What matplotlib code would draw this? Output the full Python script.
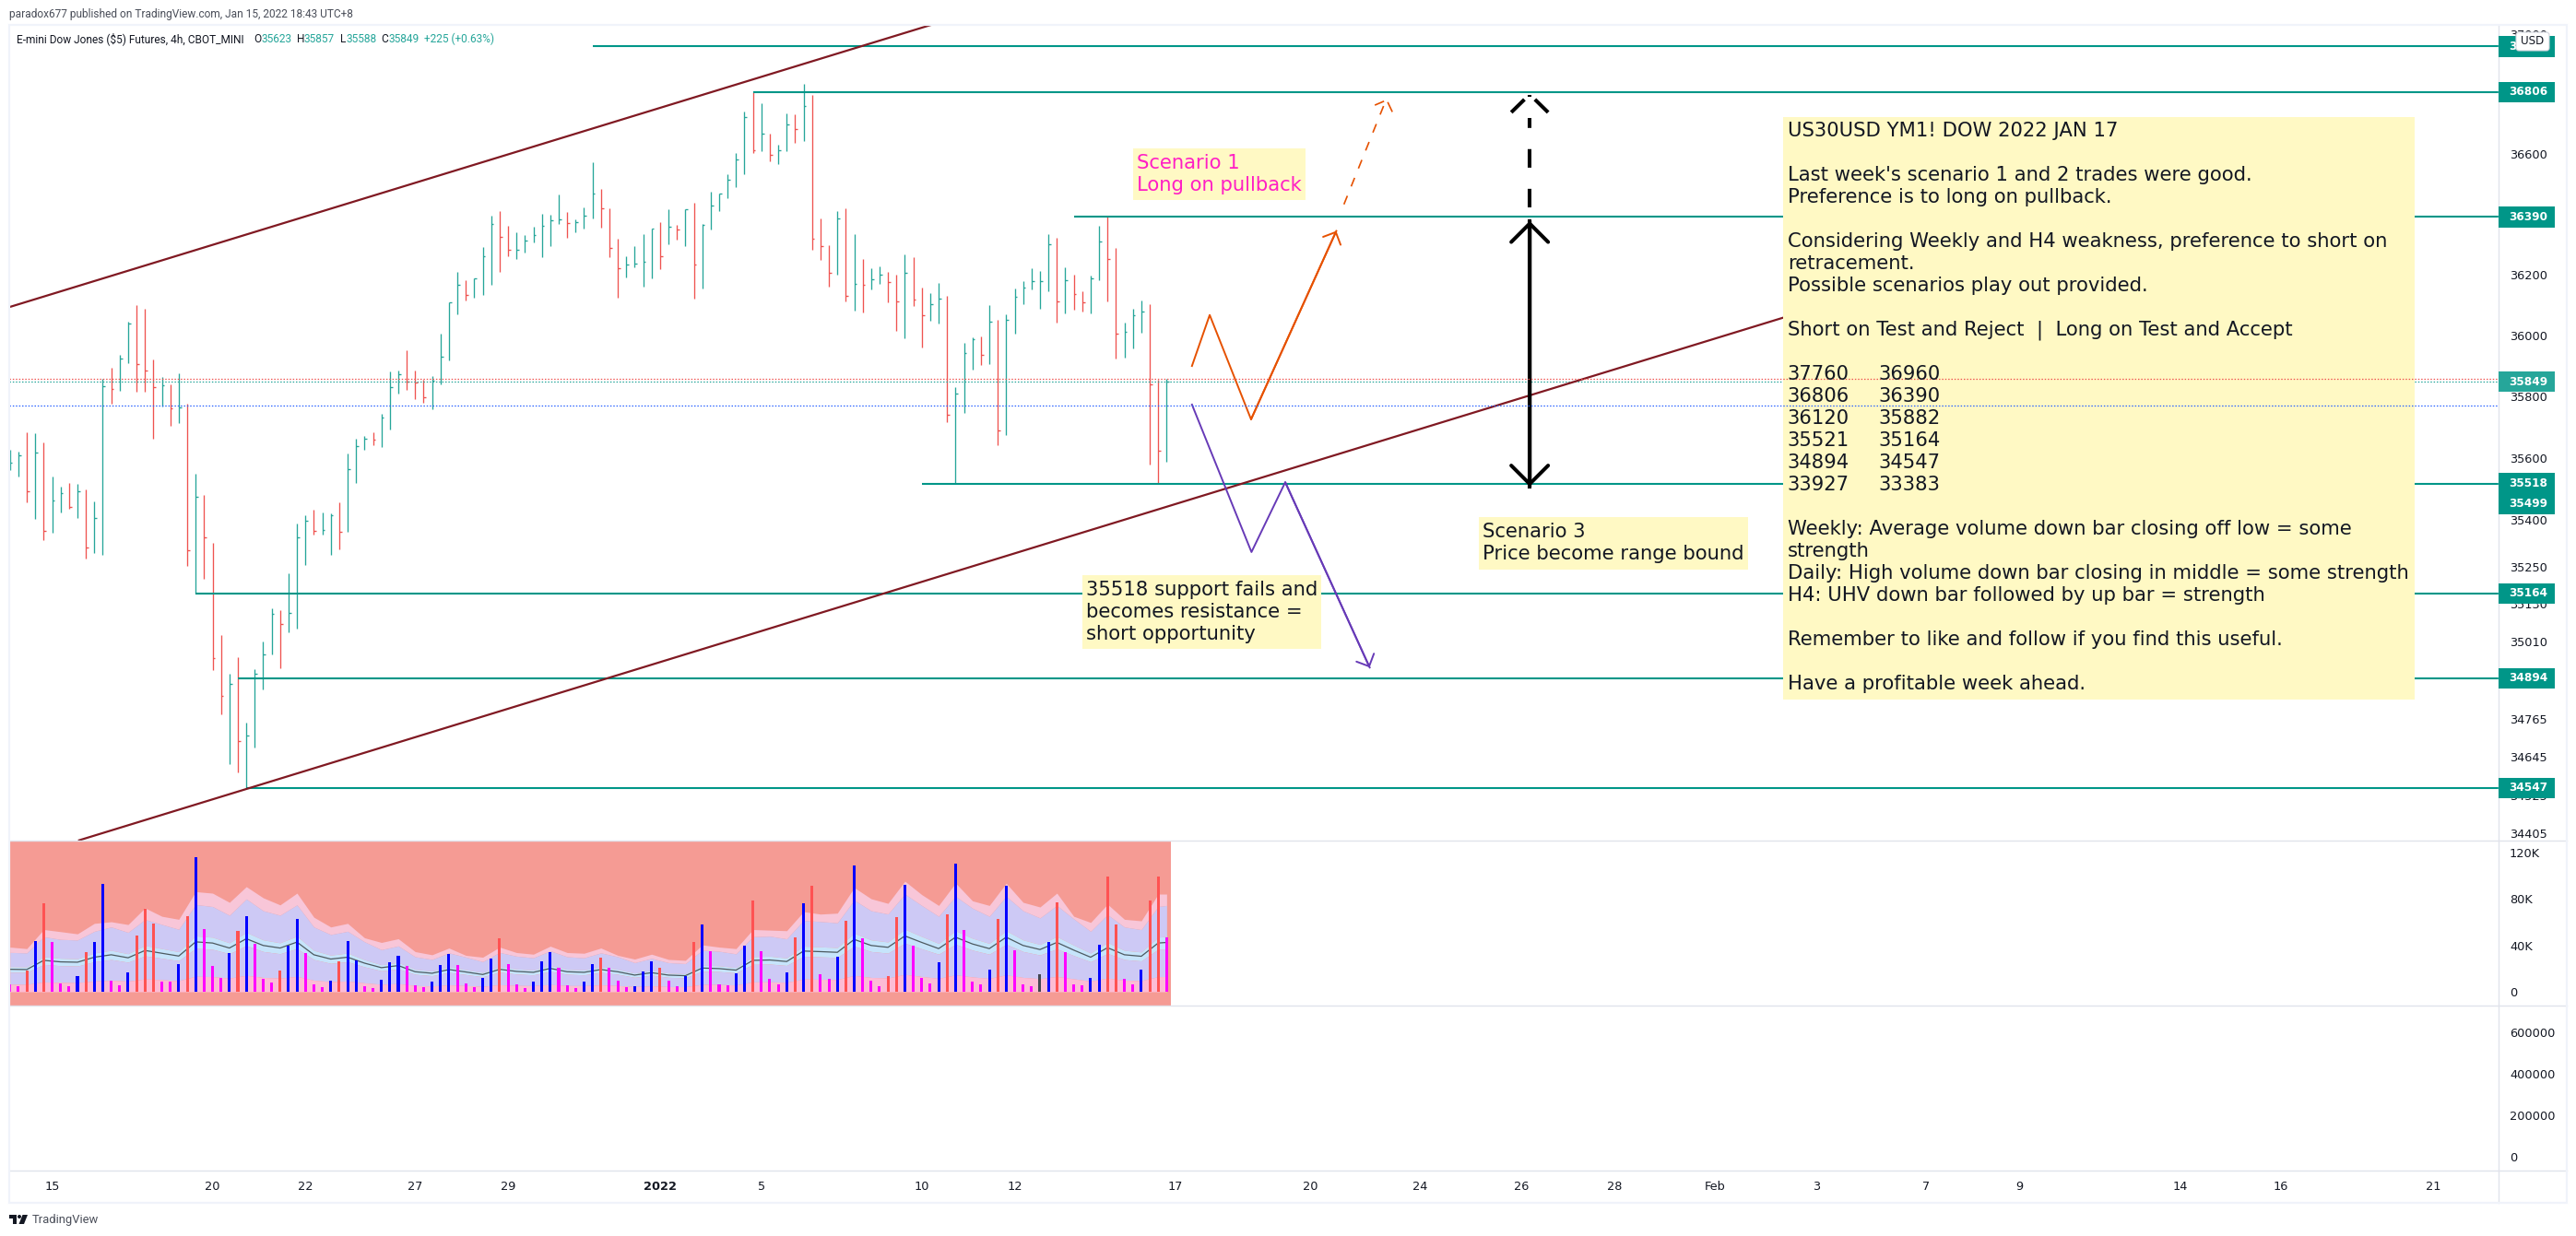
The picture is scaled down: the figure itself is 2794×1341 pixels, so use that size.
import numpy as np
import matplotlib
matplotlib.use('Agg')
import matplotlib.pyplot as plt
from matplotlib.lines import Line2D
from matplotlib.patches import Rectangle, Polygon, Circle, FancyBboxPatch
from matplotlib.ticker import NullLocator, NullFormatter
from matplotlib.transforms import Affine2D, IdentityTransform

# ==========================================
# 1. DATA
# ==========================================
highs = [35627, 35621, 35684, 35681, 35651, 35540, 35508, 35520, 35517, 35499,
         35460, 35858, 35894, 35936, 36045, 36100, 36088, 35921, 35863, 35841,
         35876, 35776, 35549, 35481, 35327, 35031, 34908, 34961, 34752, 34923,
         35011, 35117, 35111, 35229, 35389, 35416, 35434, 35425, 35422, 35457,
         35615, 35663, 35672, 35684, 35744, 35881, 35885, 35952, 35885, 35854,
         35867, 36006, 36108, 36209, 36182, 36188, 36290, 36395, 36411, 36362,
         36341, 36329, 36359, 36401, 36398, 36465, 36407, 36383, 36423, 36573,
         36484, 36420, 36319, 36261, 36295, 36334, 36353, 36374, 36417, 36365,
         36417, 36438, 36368, 36475, 36469, 36533, 36603, 36741, 36806, 36769,
         36668, 36631, 36735, 36732, 36833, 36797, 36386, 36298, 36411, 36420,
         36334, 36252, 36221, 36227, 36209, 36200, 36267, 36258, 36158, 36139,
         36173, 36130, 35831, 35976, 35994, 35997, 36100, 36052, 36070, 36155,
         36179, 36221, 36212, 36334, 36322, 36225, 36200, 36146, 36197, 36362,
         36392, 36288, 36042, 36088, 36115, 36103, 35855, 35857]
lows = [35561, 35540, 35457, 35404, 35335, 35359, 35425, 35437, 35407, 35276,
        35294, 35288, 35778, 35819, 35909, 35816, 35816, 35663, 35768, 35705,
        35714, 35253, 35164, 35211, 34920, 34780, 34623, 34597, 34547, 34675,
        34859, 34970, 34926, 35040, 35052, 35256, 35353, 35353, 35288, 35306,
        35361, 35520, 35627, 35642, 35636, 35693, 35810, 35821, 35791, 35780,
        35759, 35840, 35918, 36070, 36115, 36124, 36133, 36167, 36209, 36261,
        36252, 36273, 36307, 36258, 36295, 36368, 36322, 36341, 36353, 36386,
        36356, 36258, 36124, 36191, 36225, 36161, 36188, 36218, 36301, 36316,
        36295, 36122, 36155, 36350, 36411, 36453, 36490, 36533, 36603, 36609,
        36576, 36567, 36609, 36637, 36643, 36282, 36249, 36161, 36200, 36112,
        36082, 36076, 36152, 36170, 36109, 36015, 35991, 36097, 35960, 36049,
        36040, 35717, 35518, 35747, 35888, 35903, 35906, 35642, 35675, 36006,
        36103, 36152, 36088, 36146, 36042, 36073, 36085, 36079, 36073, 36182,
        36112, 35924, 35927, 35957, 36009, 35579, 35520, 35588]
closes = [35584, 35608, 35492, 35617, 35364, 35462, 35486, 35442, 35492, 35311,
          35406, 35833, 35824, 35924, 36039, 35907, 35884, 35830, 35836, 35761,
          35764, 35302, 35474, 35343, 34957, 34838, 34875, 34695, 34712, 34908,
          34969, 35098, 35066, 35101, 35343, 35397, 35364, 35367, 35415, 35361,
          35563, 35638, 35662, 35659, 35731, 35830, 35873, 35848, 35845, 35799,
          35851, 35930, 36108, 36166, 36132, 36187, 36261, 36367, 36324, 36282,
          36282, 36313, 36331, 36361, 36379, 36382, 36370, 36373, 36393, 36468,
          36419, 36288, 36221, 36233, 36237, 36242, 36352, 36261, 36358, 36349,
          36416, 36233, 36365, 36428, 36468, 36514, 36581, 36722, 36612, 36667,
          36596, 36612, 36698, 36682, 36759, 36318, 36294, 36205, 36385, 36129,
          36169, 36166, 36184, 36199, 36175, 36111, 36205, 36117, 36066, 36102,
          36120, 35740, 35809, 35941, 35987, 35936, 36045, 35689, 36051, 36126,
          36157, 36178, 36178, 36300, 36111, 36181, 36136, 36108, 36187, 36309,
          36251, 36005, 36011, 36067, 36078, 35840, 35623, 35849]
bar_dirs = ("ttrtrttrtr" "ttrttrrrtr" "trtrrrtrtt" "ttrtttrttr" "tttrtttrrr"
            "ttttrtttrr" "ttttttrttt" "rrrttttrtr" "trttttttrt" "rttrtrrrtr"
            "trttrrtrrt" "trtttrtrtt" "ttttrtrrtt" "rrtttrrt")

# volume in thousands
volumes = [6.1, 4.5, 18.5, 43.5, 76, 42.7, 6.9, 4.5, 13.2, 33.9,
           42.7, 92.7, 9.3, 5.3, 16.4, 48.2, 71.3, 58.6, 8.5, 8.5,
           23.6, 64.9, 115.8, 53.8, 22, 11.7, 33.1, 52.2, 64.9, 41.1,
           10.9, 7.7, 18, 39.5, 62.5, 33.1, 6.1, 3.7, 9.3, 26,
           43.5, 26.8, 4.5, 2.9, 10.1, 25.2, 30.7, 22, 5.3, 3.7,
           8.5, 22.8, 32.3, 22.8, 6.9, 3.7, 11.7, 28.4, 45.8, 23.6,
           6.1, 2.9, 8.5, 26, 33.9, 20.4, 5.3, 2.9, 8.5, 23.6,
           29.1, 20.4, 9.3, 3.7, 4.5, 17.2, 26, 20.4, 9.3, 4.5,
           13.2, 42.7, 57.8, 34.7, 6.1, 5.3, 15.6, 39.5, 78.4, 34.7,
           10.9, 6.1, 16.4, 46.6, 76, 91.1, 14.8, 10.9, 29.9, 60.9,
           108.6, 45.8, 9.3, 4.5, 13.2, 64.1, 91.9, 39.5, 11.7, 6.9,
           25.2, 66.5, 110.2, 53, 8.5, 6.1, 18.8, 62.5, 91.1, 35.5,
           6.1, 4.5, 14.8, 42.7, 76.8, 33.9, 6.1, 5.3, 11.7, 40.3,
           99.1, 57.8, 10.9, 6.1, 18.8, 78.4, 99.1, 46.6]
vol_kinds = ("mmrbrmmmbr" "bbmmbrrrmm" "brbmmmbrbm" "mmrbbmmmbr" "bbmmbbbmmm"
             "bbbmmmbbrm" "mmbbbmmmbb" "rmmmbbbrmm" "brbmmmbbrm" "mmbrbrmmbr"
             "bmmmrrbmmm" "brbmmmbrbm" "mmgbrmmmbb" "rrmmbrrm")

# volume bands, sampled every second bar
band_bars = list(range(0, 137, 2)) + [137]
vol_ma = [19.3, 19.1, 27, 25.7, 25.4, 29.7, 31.8, 29.2, 35.5, 33.1,
          30.7, 42.9, 41.9, 37.6, 45.6, 39.8, 37.6, 42.7, 31.8, 28.1,
          29.7, 24.6, 20.7, 22.5, 17.2, 15.9, 19.1, 17, 14.8, 19.3,
          17.5, 16.7, 20.1, 17.2, 16.7, 19.1, 17.2, 14.3, 16.4, 14.3,
          13.8, 20.4, 19.9, 18.6, 27, 27.3, 26, 35, 34.5, 33.9,
          45, 39.8, 38.2, 48, 42.4, 37.1, 46.9, 41.1, 37.1, 46.9,
          39.8, 36.3, 42.4, 35.8, 29.7, 37.9, 31.8, 30.5, 41.9, 42.4]
band_top = [38.4, 37.1, 53.5, 51.7, 49.8, 58.8, 60.2, 57.8, 72.1, 64.9,
            62.3, 86.1, 84.8, 76.9, 90.4, 80.8, 74.7, 84.8, 64.1, 55.7,
            58.8, 46.4, 42.4, 45.6, 34.5, 31.8, 37.6, 31.3, 29.7, 38.4,
            33.7, 32.3, 39.2, 33.7, 33.1, 37.6, 31.3, 28.1, 32.3, 27.8,
            27, 40.3, 38.4, 37.1, 53.5, 53, 52.5, 68.9, 66.8, 67.6,
            89.6, 80, 76, 95.1, 83.5, 74.2, 93.5, 78.2, 74.2, 93.3,
            76.9, 72.9, 84.8, 64.9, 59.6, 75.3, 62.3, 61, 84, 84]
band_high = [33.8, 33.4, 47.3, 45, 44.5, 52, 55.7, 51.1, 62.1, 57.9,
             53.7, 75, 73.3, 65.8, 79.8, 69.7, 65.8, 74.7, 55.7, 49.2,
             52, 43, 36.2, 39.4, 30.1, 27.8, 33.4, 29.8, 25.9, 33.8,
             30.6, 29.2, 35.2, 30.1, 29.2, 33.4, 30.1, 25, 28.7, 25,
             24.2, 35.7, 34.8, 32.6, 47.3, 47.8, 45.5, 61.3, 60.4, 59.3,
             78.8, 69.7, 66.9, 84, 74.2, 64.9, 82.1, 71.9, 64.9, 82.1,
             69.7, 63.5, 74.2, 62.7, 52, 66.3, 55.7, 53.4, 73.3, 74.2]
band_mid_hi = [21.6, 21.4, 30.2, 28.8, 28.4, 33.3, 35.6, 32.7, 39.8, 37.1,
               34.4, 48, 46.9, 42.1, 51.1, 44.6, 42.1, 47.8, 35.6, 31.5,
               33.3, 27.6, 23.2, 25.2, 19.3, 17.8, 21.4, 19, 16.6, 21.6,
               19.6, 18.7, 22.5, 19.3, 18.7, 21.4, 19.3, 16, 18.4, 16,
               15.5, 22.8, 22.3, 20.8, 30.2, 30.6, 29.1, 39.2, 38.6, 38,
               50.4, 44.6, 42.8, 53.8, 47.5, 41.6, 52.5, 46, 41.6, 52.5,
               44.6, 40.7, 47.5, 40.1, 33.3, 42.4, 35.6, 34.2, 46.9, 47.5]
band_mid_lo = [16.8, 16.6, 23.5, 22.4, 22.1, 25.8, 27.7, 25.4, 30.9, 28.8,
               26.7, 37.3, 36.5, 32.7, 39.7, 34.6, 32.7, 37.1, 27.7, 24.4,
               25.8, 21.4, 18, 19.6, 15, 13.8, 16.6, 14.8, 12.9, 16.8,
               15.2, 14.5, 17.5, 15, 14.5, 16.6, 15, 12.4, 14.3, 12.4,
               12, 17.7, 17.3, 16.2, 23.5, 23.8, 22.6, 30.5, 30, 29.5,
               39.2, 34.6, 33.2, 41.8, 36.9, 32.3, 40.8, 35.8, 32.3, 40.8,
               34.6, 31.6, 36.9, 31.1, 25.8, 33, 27.7, 26.5, 36.5, 36.9]
band_low = [6.4, 6.3, 8.4, 8, 7.9, 9.2, 9.9, 9.1, 11, 10.3,
            9.5, 13.3, 13, 11.7, 14.1, 12.3, 11.7, 13.2, 9.9, 8.7,
            9.2, 7.6, 6.4, 7, 5.3, 4.9, 5.9, 5.3, 4.6, 6,
            5.4, 5.2, 6.2, 5.3, 5.2, 5.9, 5.3, 4.4, 5.1, 4.4,
            4.3, 6.3, 6.2, 5.8, 8.4, 8.5, 8.1, 10.9, 10.7, 10.5,
            14, 12.3, 11.8, 14.9, 13.1, 11.5, 14.5, 12.7, 11.5, 14.5,
            12.3, 11.3, 13.1, 11.1, 9.2, 11.7, 9.9, 9.5, 13, 13.1]

# horizontal levels: price, first bar
level_prices = [36960, 36806, 36390, 35518, 35164, 34894, 34547]
level_starts = [69, 88, 126, 108, 22, 27, 28]

upper_trend_x, upper_trend_y = [-1, 110], [36085, 37040]
lower_trend_x, lower_trend_y = [8.2, 212], [34383, 36075]

orange_x, orange_y = [140, 142.1, 147, 157.1], [35900, 36067, 35726, 36344]
orange_dash_x, orange_dash_y = [158, 163], [36432, 36781]
purple_x, purple_y = [140, 147.05, 151.05, 161.05], [35774, 35297, 35522, 34928]
range_bar = 180
range_prices = [35508, 36377]
range_dash_prices = [36423, 36720]
range_dash_tip = 36797

last_high, last_close, last_ma = 35857, 35849, 35772

price_ticks = [37000, 36600, 36200, 36000, 35800, 35600, 35400, 35250, 35130,
               35010, 34765, 34645, 34525, 34405]
vol_ticks = [0, 40, 80, 120]
vol_tick_labels = ['0', '40K', '80K', '120K']
lower_ticks = [0, 200000, 400000, 600000]
tag_prices = [36960, 36806, 36390, 35849, 35499, 35518, 35164, 34894, 34547]
tag_shifts = [0, 0, 0, 0, 16, 0, 0, 0, 0]  # pushed down so tags do not collide

time_bars = [5, 24, 35, 48, 59, 77, 89, 108, 119, 138,
             154, 167, 179, 190, 202, 214, 227, 238, 257, 269, 287]
time_labels = ['15', '20', '22', '27', '29', '2022', '5', '10', '12', '17',
               '20', '24', '26', '28', 'Feb', '3', '7', '9', '14', '16', '21']

note_lines = ["US30USD YM1! DOW 2022 JAN 17", "",
              "Last week's scenario 1 and 2 trades were good.",
              "Preference is to long on pullback.", "",
              "Considering Weekly and H4 weakness, preference to short on",
              "retracement.", "Possible scenarios play out provided.", "",
              "Short on Test and Reject  |  Long on Test and Accept", "",
              "37760\t36960", "36806\t36390", "36120\t35882",
              "35521\t35164", "34894\t34547", "33927\t33383", "",
              "Weekly: Average volume down bar closing off low = some",
              "strength", "Daily: High volume down bar closing in middle = some strength",
              "H4: UHV down bar followed by up bar = strength", "",
              "Remember to like and follow if you find this useful.", "",
              "Have a profitable week ahead."]

# ==========================================
# 2. LAYOUT
# ==========================================
W, H = 2794, 1341
LEFT, RIGHT, FRAME_R = 10, 2710, 2784
TEAL, BAR_UP, BAR_DOWN = '#009688', '#26a69a', '#ef5350'
TEXT = '#131722'
GRID = '#e0e3eb'
NOTE_BG = '#fff9c4'
NOTE_FONT = 'DejaVu Sans'
HEAD_FONT = 'Roboto'
ORANGE, PURPLE = '#e65100', '#673ab7'

plt.rcParams['font.family'] = ['DejaVu Sans']
fig = plt.figure(figsize=(W / 100, H / 100), dpi=100, facecolor='white')
px = Affine2D().scale(1, -1).translate(0, H)  # top-left pixel coordinates


def pane(top, bottom):
    ax = fig.add_axes([LEFT / W, 1 - bottom / H, (RIGHT - LEFT) / W, (bottom - top) / H])
    ax.set_xlim(-0.08, 294.75)
    for s in ax.spines.values():
        s.set_visible(False)
    ax.yaxis.tick_right()
    ax.tick_params(axis='y', length=0, pad=8.6, labelsize=9.3, labelcolor=TEXT)
    ax.tick_params(axis='x', length=0, pad=8, labelsize=9.3, labelcolor=TEXT)
    ax.set_xticks([])
    return ax


ax_main = pane(28, 912)
ax_vol = pane(912, 1091)
ax_low = pane(1091, 1270)

# ==========================================
# 3. PRICE PANE
# ==========================================
bars = np.arange(len(closes))
bar_colors = [BAR_UP if d == 't' else BAR_DOWN for d in bar_dirs]

ax_main.set_yscale('log')
ax_main.set_ylim(34382, 37029)
ax_main.set_yticks(price_ticks, labels=[str(t) for t in price_ticks])
ax_main.yaxis.set_minor_locator(NullLocator())
ax_main.yaxis.set_minor_formatter(NullFormatter())

ax_main.vlines(bars, lows, highs, colors=bar_colors, lw=0.95, zorder=2)
ax_main.hlines(closes, bars, bars + 0.3, colors=bar_colors, lw=0.95, zorder=2)

ax_main.axhline(last_close, color=BAR_UP, lw=0.9, ls=(0, (1.2, 1.5)), zorder=2)

for price, start in zip(level_prices, level_starts):
    ax_main.plot([start, 295], [price, price], color=TEAL, lw=1.5, zorder=3,
                 solid_capstyle='butt')

ax_main.plot(upper_trend_x, upper_trend_y, color='#801922', lw=1.6, zorder=3)
ax_main.plot(lower_trend_x, lower_trend_y, color='#801922', lw=1.6, zorder=3)


def arrow_head(ax, x0, y0, x1, y1, color, lw, size):
    # size in points, chevron wings at about 45 degrees
    ax.annotate('', xy=(x1, y1), xytext=(x0, y0), zorder=4,
                arrowprops=dict(arrowstyle=f'->,head_length={size},head_width={size}', color=color,
                                lw=lw, mutation_scale=1, shrinkA=0, shrinkB=0))


def broken_head(ax, x, y, color, lw, pieces):
    # dashed chevron: pixel offsets from the tip
    at = Affine2D().translate(*ax.transData.transform((x, y)))
    for dx, dy in pieces:
        ax.plot(dx, dy, color=color, lw=lw, transform=at, zorder=4, solid_capstyle='butt')


ax_main.plot(orange_x, orange_y, color=ORANGE, lw=1.4, zorder=4)
arrow_head(ax_main, orange_x[-2], orange_y[-2], orange_x[-1], orange_y[-1], ORANGE, 1.4, 7.5)
ax_main.plot(orange_dash_x, orange_dash_y, color=ORANGE, lw=1.2, ls=(0, (6, 6.6)), zorder=4)
broken_head(ax_main, orange_dash_x[1], orange_dash_y[1], ORANGE, 1.2,
            [([-12.3, -2.3], [-6, -1.7]), ([1.7, 6.7], [-2.7, -13.3])])
ax_main.plot(purple_x, purple_y, color=PURPLE, lw=1.4, zorder=4)
arrow_head(ax_main, purple_x[-2], purple_y[-2], purple_x[-1], purple_y[-1], PURPLE, 1.4, 7.5)

ax_main.plot([range_bar, range_bar], range_prices, color='black', lw=2.9, zorder=4)
arrow_head(ax_main, range_bar, range_prices[0], range_bar, range_prices[1], 'black', 2.9, 14.4)
arrow_head(ax_main, range_bar, range_prices[1], range_bar, range_prices[0], 'black', 2.9, 14.4)
ax_main.plot([range_bar, range_bar], range_dash_prices, color='black', lw=2.9,
             ls=(0, (5, 5.7)), zorder=4, dash_capstyle='butt')
broken_head(ax_main, range_bar, range_dash_tip, 'black', 2.9,
            [([-20, -5.7], [-19, -5]), ([5.7, 20], [-5, -19]), ([0, 0], [0, -2.5])])


def note_box(x0, y0, x1, y1):
    ax_main.add_patch(Rectangle((x0, y0), x1 - x0, y1 - y0, transform=px, fc=NOTE_BG,
                                ec='none', zorder=5, clip_on=False))


def note_text(x, y, s, color=TEXT, size=15.2):
    ax_main.text(x, y, s, transform=px, color=color, fontsize=size, va='center', ha='left',
                 family=NOTE_FONT, zorder=6, clip_on=False)


note_box(1934, 127, 2619, 759)
for i, line in enumerate(note_lines):
    if not line:
        continue
    parts = line.split('\t')
    note_text(1938.7, 142.5 + 24 * i, parts[0])
    if len(parts) > 1:
        note_text(2037.7, 142.5 + 24 * i, parts[1])

note_box(1229, 161, 1416, 217)
note_text(1233, 177, 'Scenario 1', color='#ff1fc4')
note_text(1233, 201, 'Long on pullback', color='#ff1fc4')
note_box(1604, 561, 1896, 618)
note_text(1608, 577, 'Scenario 3')
note_text(1608, 601, 'Price become range bound')
note_box(1174, 624, 1433, 704)
note_text(1178, 640, '35518 support fails and')
note_text(1178, 664, 'becomes resistance =')
note_text(1178, 688, 'short opportunity')

# these two run over the note box
ax_main.axhline(last_high, color=BAR_DOWN, lw=0.9, ls=(0, (1.2, 1.5)), zorder=5.5)
ax_main.axhline(last_ma, color='#2962ff', lw=0.9, ls=(0, (1.2, 1.5)), zorder=5.5)

# ==========================================
# 4. VOLUME PANE
# ==========================================
vol_colors = {'m': '#ff00ff', 'b': '#0000ff', 'r': '#ff5252', 'g': '#434651'}
ax_vol.set_ylim(-11.9, 130)
ax_vol.set_yticks(vol_ticks, labels=vol_tick_labels)
ax_vol.axvspan(-0.5, 137.55, color='#f59b94', lw=0, zorder=0)
ax_vol.fill_between(band_bars, band_high, band_top, color='#f8c6d8', lw=0, zorder=1)
ax_vol.fill_between(band_bars, band_mid_hi, band_high, color='#cdc9f5', lw=0, zorder=1)
ax_vol.fill_between(band_bars, band_mid_lo, band_mid_hi, color='#c6e4fb', lw=0, zorder=1)
ax_vol.fill_between(band_bars, band_low, band_mid_lo, color='#cdc9f5', lw=0, zorder=1)
ax_vol.fill_between(band_bars, 0, band_low, color='#fcbcd5', lw=0, zorder=1)
ax_vol.plot(band_bars, vol_ma, color='#4d5a60', lw=0.9, zorder=2)
ax_vol.bar(bars, volumes, width=0.33, color=[vol_colors[k] for k in vol_kinds], zorder=3)

# ==========================================
# 5. EMPTY LOWER PANE AND TIME AXIS
# ==========================================
ax_low.set_ylim(-68150, 729000)
ax_low.set_yticks(lower_ticks, labels=[str(t) for t in lower_ticks])
ax_low.set_xticks(time_bars, labels=time_labels)
for lab in ax_low.get_xticklabels():
    if lab.get_text() == '2022':
        lab.set_fontweight('bold')

# ==========================================
# 6. PRICE TAGS, FRAME, HEADER
# ==========================================
fig.canvas.draw()
for price, shift in zip(tag_prices, tag_shifts):
    y = ax_main.transData.transform((0, price))[1] - shift
    color = BAR_UP if price == last_close else TEAL
    fig.add_artist(Rectangle((RIGHT, y - 11.3), 61, 22.6, transform=IdentityTransform(), fc=color,
                             ec='none', zorder=7))
    fig.text(2742.5, H - y, str(price), transform=px, color='white', fontsize=8.7,
             fontweight='bold', ha='center', va='center', zorder=8)

fig.add_artist(FancyBboxPatch((2730, 36), 34, 18, boxstyle='round,pad=1,rounding_size=3',
                              transform=px, fc='white', ec='#d1d4dc', lw=0.8, zorder=9))
fig.text(2747, 45, 'USD', transform=px, color=TEXT, fontsize=8.6, ha='center', va='center', zorder=10)

for y in (912, 1091, 1270):
    fig.add_artist(Line2D([LEFT, FRAME_R], [y, y], transform=px, color=GRID, lw=1.0, zorder=6))
fig.add_artist(Line2D([RIGHT, RIGHT], [27, 1305], transform=px, color=GRID, lw=1.0, zorder=6))
fig.add_artist(Rectangle((LEFT, 27), FRAME_R - LEFT, 1278, transform=px, fc='none',
                         ec='#f0f3fa', lw=1.6, zorder=6))

fig.text(10, 15, 'paradox677 published on TradingView.com, Jan 15, 2022 18:43 UTC+8', transform=px,
         color='#4a4e59', fontsize=8.6, family=HEAD_FONT, va='center')
fig.text(18, 42, 'E-mini Dow Jones ($5) Futures, 4h, CBOT_MINI', transform=px, color=TEXT,
         fontsize=8.6, family=HEAD_FONT, va='center')
for x, s, c in [(275, 'O', TEXT), (284, '35623', BAR_UP), (322, 'H', TEXT), (330, '35857', BAR_UP),
                (369, 'L', TEXT), (375, '35588', BAR_UP), (413, 'C', TEXT), (421, '35849', BAR_UP),
                (460, '+225 (+0.63%)', BAR_UP)]:
    fig.text(x, 42, s, transform=px, color=c, fontsize=8.6, family=HEAD_FONT, va='center')

# TradingView mark
LOGO = '#131722'
fig.add_artist(Polygon([(10, 1318), (18, 1318), (18, 1328), (14, 1328), (14, 1322), (10, 1322)],
                       transform=px, fc=LOGO, ec='none'))
fig.add_artist(Circle((21, 1320), 2, transform=px, fc=LOGO, ec='none'))
fig.add_artist(Polygon([(24.5, 1318), (30, 1318), (26, 1328), (20.5, 1328)], transform=px,
                       fc=LOGO, ec='none'))
fig.text(35, 1323, 'TradingView', transform=px, color='#4a4e59', fontsize=9.4,
         family=HEAD_FONT, va='center')

fig.savefig('out.png', dpi=100)
